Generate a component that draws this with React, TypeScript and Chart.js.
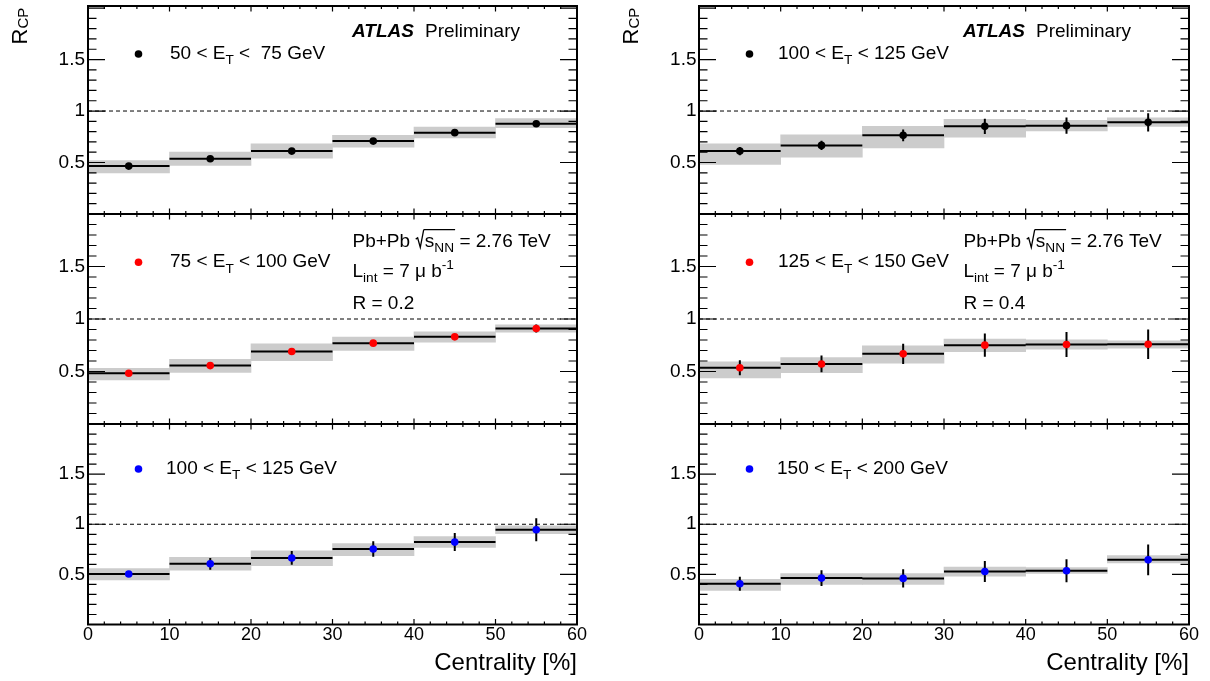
import React, { useEffect, useRef } from 'react';
import { Chart, registerables } from 'chart.js';

Chart.register(...registerables);

// ---------------- data ----------------
const binEdges = [0, 10, 20, 30, 40, 50, 60];
const binCenters = [5, 15, 25, 35, 45, 55];
const yTickLabels = ['0.5', '1', '1.5'];

// R = 0.2, 50 < ET < 75 GeV
const r02Et50Val = [0.465, 0.537, 0.611, 0.708, 0.79, 0.877];
const r02Et50Stat = [0.008, 0.008, 0.01, 0.012, 0.015, 0.018];
const r02Et50SysUp = [0.055, 0.065, 0.071, 0.055, 0.055, 0.049];
const r02Et50SysDn = [0.065, 0.065, 0.068, 0.058, 0.052, 0.039];

// R = 0.2, 75 < ET < 100 GeV
const r02Et75Val = [0.483, 0.556, 0.69, 0.77, 0.83, 0.91];
const r02Et75Stat = [0.01, 0.012, 0.015, 0.02, 0.028, 0.038];
const r02Et75SysUp = [0.048, 0.061, 0.073, 0.057, 0.048, 0.035];
const r02Et75SysDn = [0.064, 0.064, 0.086, 0.07, 0.051, 0.035];

// R = 0.2, 100 < ET < 125 GeV
const r02Et100Val = [0.503, 0.605, 0.664, 0.753, 0.822, 0.945];
const r02Et100Stat = [0.03, 0.058, 0.069, 0.077, 0.09, 0.115];
const r02Et100SysUp = [0.056, 0.066, 0.072, 0.053, 0.056, 0.04];
const r02Et100SysDn = [0.059, 0.063, 0.076, 0.066, 0.053, 0.04];

// R = 0.4, 100 < ET < 125 GeV
const r04Et100Val = [0.611, 0.666, 0.764, 0.851, 0.858, 0.89];
const r04Et100Stat = [0.04, 0.045, 0.057, 0.073, 0.078, 0.088];
const r04Et100SysUp = [0.071, 0.104, 0.088, 0.068, 0.052, 0.045];
const r04Et100SysDn = [0.13, 0.113, 0.123, 0.104, 0.052, 0.039];

// R = 0.4, 125 < ET < 150 GeV
const r04Et125Val = [0.536, 0.572, 0.668, 0.751, 0.757, 0.76];
const r04Et125Stat = [0.072, 0.08, 0.096, 0.11, 0.12, 0.14];
const r04Et125SysUp = [0.057, 0.061, 0.077, 0.057, 0.045, 0.032];
const r04Et125SysDn = [0.096, 0.083, 0.089, 0.061, 0.045, 0.038];

// R = 0.4, 150 < ET < 200 GeV
const r04Et150Val = [0.407, 0.463, 0.46, 0.529, 0.536, 0.645];
const r04Et150Stat = [0.07, 0.079, 0.09, 0.104, 0.115, 0.153];
const r04Et150SysUp = [0.043, 0.046, 0.049, 0.043, 0.033, 0.043];
const r04Et150SysDn = [0.066, 0.063, 0.059, 0.046, 0.026, 0.03];

// ---------------- styling / layout ----------------
const FAMILY = "'Liberation Sans', Arial, Helvetica, sans-serif";
const BAND = '#cccccc';

type Seg = { t?: string; sub?: boolean; sup?: boolean; bold?: boolean; italic?: boolean; root?: boolean; over?: boolean; scale?: number; dy?: number };

const COLS = [
  { left: 0, width: 590, axisW: 88, padR: 13, tickPad: 3, legendTextDx: [82, 82, 78] },
  { left: 600, width: 610, axisW: 99, padR: 21, tickPad: 2.5, legendTextDx: [79, 79, 78] },
];
const ROWS = [
  { top: 0, height: 220, padT: 6, padB: 6, xH: 0, yMax: 2.02, showX: false, markerDy: 48 },
  { top: 208, height: 222, padT: 6, padB: 6, xH: 0, yMax: 2, showX: false, markerDy: 48.3 },
  { top: 418, height: 263, padT: 6, padB: 0, xH: 56.5, yMax: 2, showX: true, markerDy: 45 },
];

interface PanelCfg {
  col: number;
  row: number;
  color: string;
  legend: Seg[];
  val: number[];
  stat: number[];
  up: number[];
  dn: number[];
  radius?: string;
}

const panels: PanelCfg[] = [
  { col: 0, row: 0, color: '#000000', legend: [{ t: '50 < E' }, { t: 'T', sub: true }, { t: ' <  75 GeV' }], val: r02Et50Val, stat: r02Et50Stat, up: r02Et50SysUp, dn: r02Et50SysDn },
  { col: 0, row: 1, color: '#ff0000', legend: [{ t: '75 < E' }, { t: 'T', sub: true }, { t: ' < 100 GeV' }], val: r02Et75Val, stat: r02Et75Stat, up: r02Et75SysUp, dn: r02Et75SysDn, radius: 'R = 0.2' },
  { col: 0, row: 2, color: '#0000ff', legend: [{ t: '100 < E' }, { t: 'T', sub: true }, { t: ' < 125 GeV' }], val: r02Et100Val, stat: r02Et100Stat, up: r02Et100SysUp, dn: r02Et100SysDn },
  { col: 1, row: 0, color: '#000000', legend: [{ t: '100 < E' }, { t: 'T', sub: true }, { t: ' < 125 GeV' }], val: r04Et100Val, stat: r04Et100Stat, up: r04Et100SysUp, dn: r04Et100SysDn },
  { col: 1, row: 1, color: '#ff0000', legend: [{ t: '125 < E' }, { t: 'T', sub: true }, { t: ' < 150 GeV' }], val: r04Et125Val, stat: r04Et125Stat, up: r04Et125SysUp, dn: r04Et125SysDn, radius: 'R = 0.4' },
  { col: 1, row: 2, color: '#0000ff', legend: [{ t: '150 < E' }, { t: 'T', sub: true }, { t: ' < 200 GeV' }], val: r04Et150Val, stat: r04Et150Stat, up: r04Et150SysUp, dn: r04Et150SysDn },
];

function drawRich(ctx: CanvasRenderingContext2D, segs: Seg[], x: number, y: number, size: number) {
  let cx = x;
  let overStart: number | null = null;
  let overEnd = 0;
  ctx.textBaseline = 'alphabetic';
  ctx.textAlign = 'left';
  for (const s of segs) {
    if (s.root) {
      ctx.save();
      ctx.lineWidth = 1.3;
      ctx.lineJoin = 'miter';
      ctx.beginPath();
      ctx.moveTo(cx + 0.02 * size, y - 0.4 * size);
      ctx.lineTo(cx + 0.12 * size, y - 0.47 * size);
      ctx.lineTo(cx + 0.26 * size, y + 0.04 * size);
      ctx.lineTo(cx + 0.44 * size, y - 0.9 * size);
      ctx.stroke();
      ctx.restore();
      overStart = cx + 0.44 * size;
      cx += 0.5 * size;
      continue;
    }
    const fs = s.scale ? size * s.scale : s.sub || s.sup ? size * 0.72 : size;
    const dy = s.dy !== undefined ? s.dy : s.sub ? size * 0.28 : s.sup ? -size * 0.42 : 0;
    ctx.font = `${s.italic ? 'italic ' : ''}${s.bold ? 'bold ' : ''}${fs}px ${FAMILY}`;
    ctx.fillText(s.t || '', cx, y + dy);
    cx += ctx.measureText(s.t || '').width;
    if (s.over) overEnd = cx;
  }
  if (overStart !== null) {
    ctx.save();
    ctx.lineWidth = 1.3;
    ctx.beginPath();
    ctx.moveTo(overStart, y - 0.9 * size);
    ctx.lineTo(overEnd + 1, y - 0.9 * size);
    ctx.stroke();
    ctx.restore();
  }
  return cx;
}

function decorPlugin(p: PanelCfg) {
  return {
    id: 'rootDecor',
    afterDraw(chart: any) {
      const ctx: CanvasRenderingContext2D = chart.ctx;
      const { left, right, top, bottom } = chart.chartArea;
      const xs = chart.scales.x;
      const ys = chart.scales.y;
      const col = COLS[p.col];
      const row = ROWS[p.row];
      ctx.save();
      ctx.strokeStyle = '#000';
      ctx.fillStyle = '#000';
      // inward ticks (ROOT style)
      ctx.lineWidth = 1.2;
      ctx.beginPath();
      for (let k = 0; k <= 30; k++) {
        const v = xs.min + k * 2;
        if (v > xs.max + 1e-9) break;
        const px = xs.getPixelForValue(v);
        const len = k % 5 === 0 ? 5.5 : 3;
        ctx.moveTo(px, bottom);
        ctx.lineTo(px, bottom - len);
        ctx.moveTo(px, top);
        ctx.lineTo(px, top + len);
      }
      for (let k = 0; k <= 20; k++) {
        const v = k / 10;
        if (v > ys.max + 1e-9) break;
        const py = ys.getPixelForValue(v);
        const len = k % 5 === 0 ? 17 : 8.5;
        ctx.moveTo(left, py);
        ctx.lineTo(left + len, py);
        ctx.moveTo(right, py);
        ctx.lineTo(right - len, py);
      }
      ctx.stroke();
      // frame
      ctx.lineWidth = 2;
      ctx.strokeRect(left, top, right - left, bottom - top);

      // legend entry
      const mx = left + 50.5;
      const my = top + row.markerDy;
      ctx.fillStyle = p.color;
      ctx.beginPath();
      ctx.arc(mx, my, 3.8, 0, Math.PI * 2);
      ctx.fill();
      ctx.fillStyle = '#000';
      drawRich(ctx, p.legend, left + col.legendTextDx[p.row], my + 5, 19);

      if (p.row === 0) {
        drawRich(ctx, [{ t: 'ATLAS', bold: true, italic: true }], left + 264, top + 30.5, 19);
        drawRich(ctx, [{ t: 'Preliminary' }], left + 337, top + 30.5, 19);
        // y-axis title R_CP (rotated)
        ctx.save();
        ctx.translate(left - 61, 44.5);
        ctx.rotate(-Math.PI / 2);
        drawRich(ctx, [{ t: 'R' }, { t: 'CP', sub: true, scale: 0.68, dy: 1 }], 0, 0, 22);
        ctx.restore();
      }
      if (p.radius) {
        const tx = left + 264.5;
        drawRich(ctx, [{ t: 'Pb+Pb ' }, { root: true }, { t: 's', over: true }, { t: 'NN', sub: true, over: true }, { t: ' = 2.76 TeV' }], tx, top + 32.7, 19);
        drawRich(ctx, [{ t: 'L' }, { t: 'int', sub: true }, { t: ' = 7 \u03bc b' }, { t: '-1', sup: true }], tx, top + 62.7, 19);
        drawRich(ctx, [{ t: p.radius }], tx, top + 95.3, 19);
      }
      ctx.restore();
    },
  };
}

function makeConfig(p: PanelCfg): any {
  const col = COLS[p.col];
  const row = ROWS[p.row];
  const bandData = binCenters.map((c, i) => ({ x: c, y: [p.val[i] - p.dn[i], p.val[i] + p.up[i]] }));
  const hData: any[] = [];
  const eData: any[] = [];
  binCenters.forEach((c, i) => {
    hData.push({ x: binEdges[i], y: p.val[i] }, { x: binEdges[i + 1], y: p.val[i] }, { x: binEdges[i + 1], y: NaN });
    eData.push({ x: c, y: p.val[i] - p.stat[i] }, { x: c, y: p.val[i] + p.stat[i] }, { x: c, y: NaN });
  });
  const pData = binCenters.map((c, i) => ({ x: c, y: p.val[i] }));
  const unity = [
    { x: binEdges[0], y: 1 },
    { x: binEdges[binEdges.length - 1], y: 1 },
  ];
  return {
    type: 'bar',
    data: {
      datasets: [
        { type: 'bar', data: bandData, backgroundColor: BAND, borderWidth: 0, barPercentage: 1, categoryPercentage: 1, grouped: false, order: 5 },
        { type: 'line', data: unity, borderColor: '#000', borderWidth: 1, borderDash: [4, 3], pointRadius: 0, fill: false, order: 4 },
        { type: 'line', data: hData, borderColor: '#000', borderWidth: 2, pointRadius: 0, spanGaps: false, fill: false, order: 3 },
        { type: 'line', data: eData, borderColor: '#000', borderWidth: 2, pointRadius: 0, spanGaps: false, fill: false, order: 2 },
        { type: 'line', data: pData, showLine: false, pointRadius: 3.8, pointBackgroundColor: p.color, pointBorderWidth: 0, order: 1 },
      ],
    },
    options: {
      responsive: false,
      animation: false,
      events: [],
      layout: { padding: { left: 0, right: col.padR, top: row.padT, bottom: row.padB }, autoPadding: false },
      plugins: { legend: { display: false }, tooltip: { enabled: false }, title: { display: false } },
      scales: {
        x: {
          type: 'linear',
          position: 'bottom',
          min: binEdges[0],
          max: binEdges[binEdges.length - 1],
          offset: false,
          grid: { display: false, drawTicks: false },
          border: { display: false },
          ticks: { display: row.showX, stepSize: 10, autoSkip: false, maxRotation: 0, minRotation: 0, padding: 0, color: '#000', font: { family: FAMILY, size: 18 } },
          title: { display: row.showX, text: 'Centrality [%]', align: 'end', color: '#000', font: { family: FAMILY, size: 24 }, padding: { top: 0, bottom: 3 } },
          afterFit: (s: any) => {
            s.height = row.xH;
            s.paddingLeft = 0;
            s.paddingRight = 0;
          },
        },
        y: {
          type: 'linear',
          position: 'left',
          min: 0,
          max: row.yMax,
          grid: { display: false, drawTicks: false },
          border: { display: false },
          ticks: {
            stepSize: 0.5,
            autoSkip: false,
            padding: col.tickPad,
            color: '#000',
            font: { family: FAMILY, size: 19 },
            callback: (v: any) => (yTickLabels.includes(String(v)) ? String(v) : null),
          },
          afterFit: (s: any) => {
            s.width = col.axisW;
            s.paddingTop = 0;
            s.paddingBottom = 0;
          },
        },
      },
    },
    plugins: [decorPlugin(p)],
  };
}

function Panel({ cfg }: { cfg: PanelCfg }) {
  const ref = useRef<HTMLCanvasElement>(null);
  const col = COLS[cfg.col];
  const row = ROWS[cfg.row];
  useEffect(() => {
    if (!ref.current) return;
    const chart = new Chart(ref.current, makeConfig(cfg));
    return () => chart.destroy();
  }, []);
  return (
    <canvas
      ref={ref}
      width={col.width}
      height={row.height}
      style={{ position: 'absolute', left: col.left, top: row.top, width: col.width, height: row.height }}
    />
  );
}

export default function App() {
  return (
    <div style={{ position: 'fixed', left: 0, top: 0, width: 1210, height: 681, background: '#ffffff', overflow: 'hidden' }}>
      {panels.map((p, i) => (
        <Panel key={i} cfg={p} />
      ))}
    </div>
  );
}
